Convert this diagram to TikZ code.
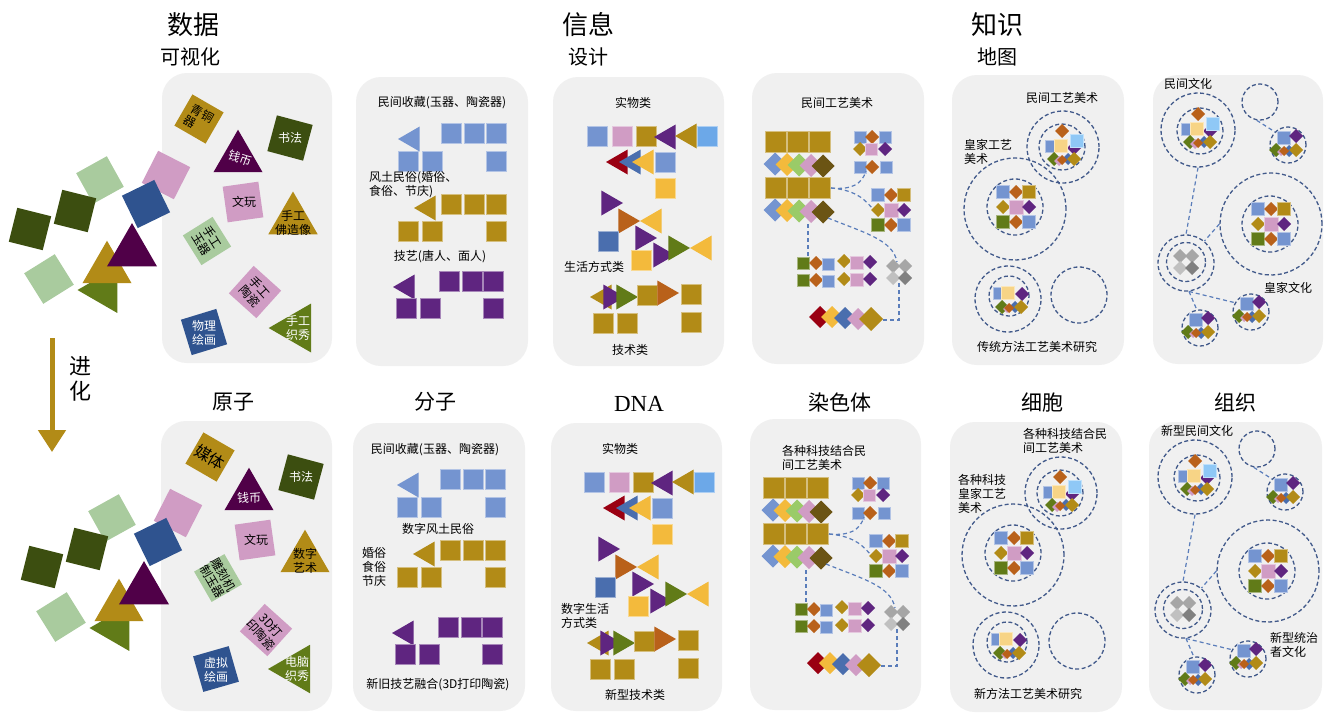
\documentclass[tikz,border=0pt]{standalone}
\usepackage{fontspec}
\setmainfont{Noto Sans CJK SC}
\newfontfamily\lserif{Liberation Serif}
\usetikzlibrary{arrows.meta}
\definecolor{cDG}{HTML}{3C4E10}
\definecolor{cLG}{HTML}{A9CB9E}
\definecolor{cPK}{HTML}{D09CC4}
\definecolor{cDB}{HTML}{2F538F}
\definecolor{cDP}{HTML}{500048}
\definecolor{cGD}{HTML}{B28B17}
\definecolor{cOL}{HTML}{617B18}
\definecolor{cMB}{HTML}{7494D0}
\definecolor{cPU}{HTML}{5F2580}
\definecolor{cOR}{HTML}{B9611A}
\definecolor{cYE}{HTML}{F3BA3C}
\definecolor{cLB}{HTML}{6CA8E8}
\definecolor{cRD}{HTML}{9A0012}
\definecolor{cSB}{HTML}{4A6EAE}
\definecolor{cGR}{HTML}{9ACB68}
\definecolor{cBR}{HTML}{6B5414}
\definecolor{cLY}{HTML}{F7D486}
\definecolor{cSK}{HTML}{8FC8F6}
\definecolor{cGa}{HTML}{A6A6A6}
\definecolor{cGb}{HTML}{C0C0C0}
\definecolor{cGc}{HTML}{808080}
\definecolor{cPN}{HTML}{F0F0F0}
\definecolor{cCI}{HTML}{41598A}
\definecolor{cLN}{HTML}{5A7DBA}
% rotated square: x y side angle colour
\newcommand\zSQ[5]{\fill[#5,rotate around={#4:(#1,#2)}] ({#1-#3/2},{#2-#3/2}) rectangle ({#1+#3/2},{#2+#3/2});}
% box with light outline: x y side colour
\newcommand\zBX[4]{\filldraw[fill=#4,draw=#4!55!white,line width=0.6pt] ({#1-#3/2},{#2-#3/2}) rectangle ({#1+#3/2},{#2+#3/2});}
% diamond: x y halfdiag colour
\newcommand\zDM[4]{\fill[#4] ({#1-#3},{#2}) -- ({#1},{#2-#3}) -- ({#1+#3},{#2}) -- ({#1},{#2+#3}) -- cycle;}
% triangle: cx cy R angle colour
\newcommand\zTR[5]{\fill[#5] ({#1+#3*cos(#4)},{#2-#3*sin(#4)}) -- ({#1+#3*cos(#4+120)},{#2-#3*sin(#4+120)}) -- ({#1+#3*cos(#4+240)},{#2-#3*sin(#4+240)}) -- cycle;}
% left / right pointing triangle by apex: ax ay side colour
\newcommand\zTL[4]{\fill[#4] (#1,#2) -- ({#1+0.866*#3},{#2-#3/2}) -- ({#1+0.866*#3},{#2+#3/2}) -- cycle;}
\newcommand\zTRt[4]{\fill[#4] (#1,#2) -- ({#1-0.866*#3},{#2-#3/2}) -- ({#1-0.866*#3},{#2+#3/2}) -- cycle;}
\newcommand\zTypeA[2]{\begin{scope}[shift={(#1,#2)}]
 \zDM{0}{-16}{7}{cOR}
 \zDM{12}{1}{7}{cPU}
 \zBX{15}{-6}{13}{cSK}
 \zBX{-11}{-1}{12}{cMB}
 \zBX{-1}{-1}{13}{cLY}
 \zDM{-8}{12}{7}{cOL}
 \zDM{-3}{14}{5}{cPK}
 \zDM{6}{12}{6}{cSB}
 \zDM{12}{12}{7}{cGD}
 \zDM{0}{13}{5}{cOR}
\end{scope}}
\newcommand\zTypeC[2]{\begin{scope}[shift={(#1,#2)}]
 \zBX{-10}{-3}{12}{cMB}
 \zBX{-1}{-3}{13}{cLY}
 \zDM{13}{-2}{7}{cPU}
 \zDM{-7}{11}{7}{cOL}
 \zDM{-2}{13}{4}{cPK}
 \zDM{6}{11}{6}{cSB}
 \zDM{12}{11}{7}{cGD}
 \zDM{0}{12}{5}{cOR}
\end{scope}}
\newcommand\zTypeG[2]{\begin{scope}[shift={(#1,#2)}]
 \zBX{-4}{-8}{13}{cMB}
 \zDM{8}{-10}{7}{cPU}
 \zDM{-12}{4}{7}{cOL}
 \zDM{-7}{6}{4}{cPK}
 \zDM{1}{5}{6}{cSB}
 \zDM{8}{4}{7}{cGD}
 \zDM{-4}{5}{5}{cOR}
\end{scope}}
\newcommand\zGrid[2]{\begin{scope}[shift={(#1,#2)}]
 \zBX{-13}{-15}{13}{cMB} \zDM{0}{-15}{7}{cOR} \zBX{13}{-15}{13}{cGD}
 \zDM{-13}{0}{7}{cGD} \zBX{0}{0}{14}{cPK} \zDM{13}{0}{7}{cPU}
 \zBX{-13}{15}{13}{cOL} \zDM{0}{15}{7}{cOR} \zBX{13}{15}{13}{cMB}
\end{scope}}
\newcommand\zGrey[2]{\begin{scope}[shift={(#1,#2)}]
 \zDM{-6}{-6}{7}{cGa} \zDM{6}{-6}{7}{cGa}
 \zDM{-6}{6}{7}{cGb} \zDM{6}{6}{7}{cGc}
\end{scope}}
% scatter of shapes left of panel 1
\newcommand\zScatter{%
 \zSQ{100}{180}{35}{29}{cLG}
 \zSQ{49}{279}{36}{32}{cLG}
 \zSQ{30}{229}{35}{-14}{cDG}
 \zSQ{75}{211}{35}{-14}{cDG}
 \zSQ{166}{175}{36}{-27}{cPK}
 \zSQ{146}{204}{36}{26}{cDB}
 \zTR{104}{290}{26.5}{180}{cOL}
 \zTR{107}{269}{28.3}{90}{cGD}
 \zTR{132}{252}{28.9}{90}{cDP}
}
\newcommand\zPTwo{%
 \zTL{398}{139}{25}{cMB}
 \zBX{451}{133}{20}{cMB} \zBX{474}{133}{20}{cMB} \zBX{496}{133}{20}{cMB}
 \zBX{408}{161}{20}{cMB} \zBX{432}{161}{20}{cMB} \zBX{496}{161}{20}{cMB}
 \zTL{414}{208}{25}{cGD}
 \zBX{451}{204}{20}{cGD} \zBX{474}{204}{20}{cGD} \zBX{496}{204}{20}{cGD}
 \zBX{408}{231}{20}{cGD} \zBX{432}{231}{20}{cGD} \zBX{496}{231}{20}{cGD}
 \zTL{393}{287}{25}{cPU}
 \zBX{449}{281}{20}{cPU} \zBX{472}{281}{20}{cPU} \zBX{493}{281}{20}{cPU}
 \zBX{406}{308}{20}{cPU} \zBX{430}{308}{20}{cPU} \zBX{493}{308}{20}{cPU}
}
\newcommand\zPThree{%
 \zBX{597}{136}{20}{cMB}
 \zBX{622}{136}{20}{cPK}
 \zBX{646}{136}{20}{cGD}
 \zTL{654}{137}{25}{cPU}
 \zTL{675}{136}{25}{cGD}
 \zBX{707}{136}{20}{cLB}
 \zTL{606}{162}{25}{cRD}
 \zTL{619}{162}{25}{cSB}
 \zTL{632}{162}{25}{cYE}
 \zBX{665}{162}{20}{cMB}
 \zBX{665}{188}{20}{cYE}
 \zTRt{623}{203}{25}{cPU}
 \zTRt{640}{221}{25}{cOR}
 \zTL{640}{221}{25}{cYE}
 \zBX{608}{241}{20}{cSB}
 \zTRt{657}{238}{25}{cPU}
 \zBX{641}{260}{20}{cYE}
 \zTRt{675}{255}{25}{cPU}
 \zTRt{690}{248}{25}{cOL}
 \zTL{690}{248}{25}{cYE}
 \zTL{590}{297}{25}{cGD}
 \zTRt{625}{297}{25}{cPU}
 \zTRt{638}{297}{25}{cOL}
 \zBX{647}{295}{20}{cGD}
 \zTRt{679}{293}{25}{cOR}
 \zBX{691}{294}{20}{cGD}
 \zBX{603}{323}{20}{cGD}
 \zBX{627}{323}{20}{cGD}
 \zBX{691}{322}{20}{cGD}
}
\newcommand\zPFour[1]{%
 \zBX{776}{142}{21}{cGD} \zBX{798}{142}{21}{cGD} \zBX{820}{142}{21}{cGD}
 \zDM{775}{164}{11.5}{cMB} \zDM{787}{164.5}{11.5}{cYE} \zDM{799}{165}{11.5}{cGR} \zDM{811}{165.5}{11.5}{cPK} \zDM{823}{166}{11.5}{cBR}
 \zBX{776}{188}{21}{cGD} \zBX{798}{188}{21}{cGD} \zBX{820}{188}{21}{cGD}
 \zDM{775}{210}{11.5}{cMB} \zDM{787}{210.5}{11.5}{cYE} \zDM{799}{211}{11.5}{cGR} \zDM{811}{211.5}{11.5}{cPK} \zDM{823}{212}{11.5}{cBR}
 \zBX{860}{137}{12}{cMB} \zDM{872}{137}{7}{cOR} \zBX{885}{137}{12}{cMB}
 \zDM{860}{149}{7}{cGD} \zBX{871}{149}{12}{cPK} \zDM{885}{149}{7}{cPU}
 \zBX{860}{167}{12}{cMB} \zDM{872}{167}{7}{cOR} \zBX{886}{167}{12}{cMB}
 \zGrid{891}{210}
 \zBX{803}{263}{12}{cOL} \zDM{816}{263}{7}{cOR} \zBX{828}{264}{12}{cMB} \zDM{844}{261}{7}{cGD} \zBX{857}{263}{13}{cPK} \zDM{870}{262}{7}{cPU}
 \zBX{803}{280}{12}{cOL} \zDM{816}{280}{7}{cOR} \zBX{828}{281}{12}{cMB} \zDM{844}{279}{7}{cGD} \zBX{857}{280}{13}{cPK} \zDM{870}{279}{7}{cPU}
 \zGrey{899}{272}
 \zDM{820}{317}{11}{cRD} \zDM{832}{317}{11}{cYE} \zDM{845}{318}{11}{cSB} \zDM{858}{319}{11}{cPK} \zDM{871}{319}{12}{cGD}
 \coordinate (#1a) at (831,188);
 \coordinate (#1b) at (866,171);
 \coordinate (#1c) at (872,208);
 \coordinate (#1d) at (828,218);
 \coordinate (#1e) at (897,262);
 \coordinate (#1f) at (808,224);
 \coordinate (#1g) at (808,256);
 \coordinate (#1h) at (883,320);
 \coordinate (#1i) at (899,281);
 \draw[myconn] (#1a) .. controls (852,190) and (862,184) .. (#1b);
 \draw[myconn] (#1a) .. controls (852,190) and (862,196) .. (#1c);
 \draw[myconn] (#1d) .. controls (865,233) and (893,240) .. (#1e);
 \draw[myconn] (#1f) -- (#1g);
 \draw[myconn] (#1h) -- (#1h -| #1i) -- (#1i);
}
\newcommand\zPFive[1]{%
 \node[mycirc,minimum size=72pt] (#1A) at (1063,147) {};
 \node[mycirc,minimum size=46pt] (#1Ai) at (1062,147) {};
 \zTypeA{1062}{147}
 \node[mycirc,minimum size=102pt] (#1B) at (1015,209) {};
 \node[mycirc,minimum size=56pt] (#1Bi) at (1015,207) {};
 \zGrid{1016}{207}
 \node[mycirc,minimum size=66pt] (#1C) at (1008,299) {};
 \node[mycirc,minimum size=40pt] (#1Ci) at (1009,296) {};
 \zTypeC{1009}{296}
 \node[mycirc,minimum size=56pt] (#1D) at (1079,295) {};
}
\newcommand\zPSix[1]{%
 \node[mycirc,minimum size=74pt] (#1E) at (1198,130) {};
 \node[mycirc,minimum size=46pt] (#1Ei) at (1200,131) {};
 \zTypeA{1198}{130}
 \node[mycirc,minimum size=36pt] (#1F) at (1260,102) {};
 \node[mycirc,minimum size=36pt] (#1G) at (1288,145) {};
 \zTypeG{1288}{146}
 \node[mycirc,minimum size=102pt] (#1H) at (1271,224) {};
 \node[mycirc,minimum size=56pt] (#1Hi) at (1270,224) {};
 \zGrid{1271}{224}
 \node[mycirc,minimum size=56pt] (#1I) at (1186,263) {};
 \node[mycirc,minimum size=39pt] (#1Ii) at (1186,262) {};
 \zGrey{1186}{262}
 \node[mycirc,minimum size=36pt] (#1J) at (1200,328) {};
 \zTypeG{1200}{328}
 \node[mycirc,minimum size=36pt] (#1K) at (1251,312) {};
 \zTypeG{1251}{312}
 \draw[myconn] (#1F.-100) -- (#1G.135);
 \draw[myconn] (#1E.south) -- (#1I.north);
 \draw[myconn] (#1H.west) -- (#1I.50);
 \draw[myconn] (#1I.-84) -- (#1J.100);
 \draw[myconn] (#1I.-84) -- (#1K.150);
}
\begin{document}
\begin{tikzpicture}[x=1pt,y=-1pt,
  mybig/.style={font=\fontsize{26}{30}\selectfont, inner sep=0},
  mysub/.style={font=\fontsize{20}{24}\selectfont, inner sep=0},
  myttl/.style={font=\fontsize{21}{25}\selectfont, inner sep=0},
  mylbl/.style={font=\fontsize{12}{14}\selectfont, inner sep=0, align=center},
  mylbll/.style={font=\fontsize{12}{14}\selectfont, inner sep=0, align=left, anchor=west},
  myshp/.style={font=\fontsize{12}{13.5}\selectfont, inner sep=0, align=center},
  mycirc/.style={circle, draw=cCI, line width=1.3pt, dash pattern=on 4pt off 2.5pt, inner sep=0},
  myconn/.style={draw=cLN, line width=1.2pt, dash pattern=on 4pt off 3pt},
  mypanel/.style={fill=cPN, rounded corners=25pt}]
\useasboundingbox (0,0) rectangle (1332,713);
\fill[white] (0,0) rectangle (1332,713);
% panels
\fill[mypanel] (162,73) rectangle (332,363);
\fill[mypanel] (356,77) rectangle (528,366);
\fill[mypanel] (553,77) rectangle (724,366);
\fill[mypanel] (752,73) rectangle (924,364);
\fill[mypanel] (952,75) rectangle (1124,365);
\fill[mypanel] (1153,75) rectangle (1323,364);
\fill[mypanel] (161,421) rectangle (332,711);
\fill[mypanel] (353,423) rectangle (525,711);
\fill[mypanel] (551,423) rectangle (722,711);
\fill[mypanel] (750,419) rectangle (921,710);
\fill[mypanel] (950,422) rectangle (1122,712);
\fill[mypanel] (1149,422) rectangle (1322,710);
% titles
\node[mybig] (tData) at (193,25) {数据};
\node[mysub] (tVis) at (190,57) {可视化};
\node[mybig] (tInfo) at (588,25) {信息};
\node[mysub] (tDes) at (588,57) {设计};
\node[mybig] (tKnow) at (997,25) {知识};
\node[mysub] (tMap) at (997,57) {地图};
\node[myttl] (tAtom) at (233,402) {原子};
\node[myttl] (tMol) at (435,402) {分子};
\node[myttl,font=\lserif\fontsize{23}{26}\selectfont] (tDNA) at (639,404) {DNA};
\node[myttl] (tChr) at (840,402) {染色体};
\node[myttl] (tCell) at (1042,402) {细胞};
\node[myttl] (tTis) at (1235,402) {组织};
% evolution arrow
\coordinate (arrS) at (52,338);
\coordinate (arrE) at (52,452);
\draw[cGD, line width=5pt, -{Triangle[width=27pt,length=22pt]}] (arrS) -- (arrE);
\node[font=\fontsize{22}{25}\selectfont, align=center, inner sep=0] (tEvo) at (80,379) {进\\化};
% ---------- panel 1 top ----------
\zScatter
\zSQ{199}{119}{36}{-30}{cGD}
\node[myshp,rotate=-30,align=left] (a1) at (199,119) {青铜\\器};
\zTR{238}{158}{28.3}{90}{cDP}
\node[myshp,text=white,rotate=-20] (a2) at (240,158) {钱币};
\zSQ{290}{138}{37}{-15}{cDG}
\node[myshp,text=white] (a3) at (290,138) {书法};
\zSQ{243}{202}{36}{8}{cPK}
\node[myshp] (a4) at (244,202) {文玩};
\zTR{293}{220}{28.5}{90}{cGD}
\node[myshp] (a5) at (293,223) {手工\\佛造像};
\zSQ{207}{241}{35}{32}{cLG}
\node[myshp,rotate=-58] (a6) at (207,241) {手工\\玉器};
\zSQ{255}{292}{37}{-42}{cPK}
\node[myshp,rotate=-48] (a7) at (255,292) {手工\\陶瓷};
\zSQ{204}{332}{37}{17}{cDB}
\node[myshp,text=white] (a8) at (204,333) {物理\\绘画};
\zTR{297}{328}{28.3}{180}{cOL}
\node[myshp,text=white] (a9) at (298,328) {手工\\织秀};
% ---------- panel 1 bottom ----------
\begin{scope}[shift={(12,338)}]
\zScatter
\end{scope}
\zSQ{210}{457}{36}{-30}{cGD}
\node[myshp,rotate=-30,font=\fontsize{16}{18}\selectfont] (b1) at (210,457) {媒体};
\zTR{249}{496}{28.3}{90}{cDP}
\node[myshp,text=white] (b2) at (249,498) {钱币};
\zSQ{301}{477}{37}{-15}{cDG}
\node[myshp,text=white] (b3) at (301,477) {书法};
\zSQ{255}{540}{36}{8}{cPK}
\node[myshp] (b4) at (256,540) {文玩};
\zTR{305}{558}{28.3}{90}{cGD}
\node[myshp] (b5) at (305,561) {数字\\艺术};
\zSQ{218}{578}{35}{30}{cLG}
\node[myshp,rotate=-60] (b6) at (218,578) {雕刻机\\制玉器};
\zSQ{266}{630}{37}{-42}{cPK}
\node[myshp,rotate=-48] (b7) at (266,630) {3D打\\印陶瓷};
\zSQ{216}{669}{37}{16}{cDB}
\node[myshp,text=white] (b8) at (216,670) {虚拟\\绘画};
\zTR{296}{669}{28}{180}{cOL}
\node[myshp,text=white] (b9) at (297,669) {电脑\\织秀};
% ---------- panel 2 ----------
\zPTwo
\node[mylbl] (c1) at (442,103) {民间收藏(玉器、陶瓷器)};
\node[mylbll] (c2) at (369,185) {风土民俗(婚俗、\\食俗、节庆)};
\node[mylbl] (c3) at (440,257) {技艺(唐人、面人)};
\begin{scope}[shift={(-1,346)}]
\zPTwo
\end{scope}
\node[mylbl] (d1) at (435,450) {民间收藏(玉器、陶瓷器)};
\node[mylbl] (d2) at (438,529) {数字风土民俗};
\node[mylbll] (d3) at (362,567) {婚俗\\食俗\\节庆};
\node[mylbl] (d4) at (438,685) {新旧技艺融合(3D打印陶瓷)};
% ---------- panel 3 ----------
\zPThree
\node[mylbl] (e1) at (633,103) {实物类};
\node[mylbll] (e2) at (564,267) {生活方式类};
\node[mylbl] (e3) at (630,350) {技术类};
\begin{scope}[shift={(-3,346)}]
\zPThree
\end{scope}
\node[mylbl] (f1) at (620,449) {实物类};
\node[mylbll] (f2) at (561,616) {数字生活\\方式类};
\node[mylbl] (f3) at (635,695) {新型技术类};
% ---------- panel 4 ----------
\zPFour{g}
\node[mylbl] (g1) at (837,103) {民间工艺美术};
\begin{scope}[shift={(-2,346)}]
\zPFour{h}
\end{scope}
\node[mylbll] (h1) at (782,458) {各种科技结合民\\间工艺美术};
% ---------- panel 5 ----------
\zPFive{i}
\node[mylbl] (i1) at (1062,98) {民间工艺美术};
\node[mylbll] (i2) at (964,152) {皇家工艺\\美术};
\node[mylbl] (i3) at (1037,347) {传统方法工艺美术研究};
\begin{scope}[shift={(-2,346)}]
\zPFive{j}
\end{scope}
\node[mylbll] (j1) at (1023,441) {各种科技结合民\\间工艺美术};
\node[mylbll] (j2) at (958,494) {各种科技\\皇家工艺\\美术};
\node[mylbl] (j3) at (1028,694) {新方法工艺美术研究};
% ---------- panel 6 ----------
\zPSix{k}
\node[mylbll] (k1) at (1164,84) {民间文化};
\node[mylbl] (k2) at (1288,288) {皇家文化};
\begin{scope}[shift={(-3,347)}]
\zPSix{l}
\end{scope}
\node[mylbll] (l1) at (1161,431) {新型民间文化};
\node[mylbll] (l2) at (1270,645) {新型统治\\者文化};
\end{tikzpicture}
\end{document}
